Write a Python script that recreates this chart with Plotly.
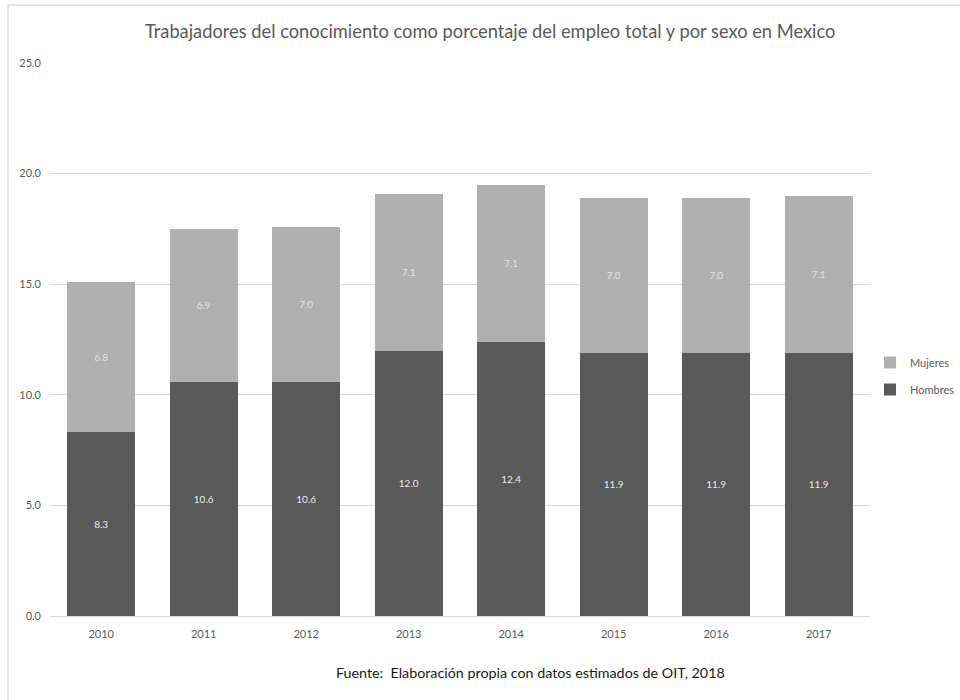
import plotly.graph_objects as go

years = ["2010", "2011", "2012", "2013", "2014", "2015", "2016", "2017"]
hombres = [8.3, 10.6, 10.6, 12.0, 12.4, 11.9, 11.9, 11.9]
mujeres = [6.8, 6.9, 7.0, 7.1, 7.1, 7.0, 7.0, 7.1]

FONT = "Lato, sans-serif"
W, H = 960, 700
ML, MR, MT, MB = 50, 90, 63, 84

fig = go.Figure()
fig.add_trace(go.Bar(
    x=years, y=hombres, name="Hombres", legendgroup="h", legendrank=2,
    marker=dict(color="#595959", line=dict(width=0)),
    text=[f"{v:.1f}" for v in hombres], textposition="inside",
    insidetextanchor="middle",
    textfont=dict(family=FONT, size=10, color="#e8e8e8"),
))
fig.add_trace(go.Bar(
    x=years, y=mujeres, name="Mujeres", legendgroup="m", legendrank=1,
    marker=dict(color="#b0b0b0", line=dict(width=0)),
    text=[f"{v:.1f}" for v in mujeres], textposition="inside",
    insidetextanchor="middle",
    textfont=dict(family=FONT, size=10, color="#e4e4e4"),
))

pw = W - ML - MR
ph = H - MT - MB
# outer frame around the whole chart, expressed in paper units
x0 = (8 - ML) / pw
x1 = (975 - ML) / pw
y1 = (H - MB - 5) / ph
y0 = (H - MB - 715) / ph

fig.update_layout(
    width=W, height=H,
    margin=dict(l=ML, r=MR, t=MT, b=MB, autoexpand=False),
    paper_bgcolor="white", plot_bgcolor="white",
    barmode="stack", bargap=0.34,
    uniformtext=dict(minsize=8, mode="show"),
    font=dict(family=FONT, color="#595959"),
    xaxis=dict(showgrid=False, showline=True, linecolor="#d9d9d9",
               tickfont=dict(size=11, color="#595959"), ticks="",
               ticklabelstandoff=8),
    yaxis=dict(range=[0, 25], dtick=5, tickformat=".1f",
               showgrid=True, gridcolor="#d9d9d9", gridwidth=1,
               zeroline=False, showline=False,
               tickfont=dict(size=11, color="#595959"), ticklabelstandoff=8),
    legend=dict(xref="container", yref="container",
                x=870 / W, y=1 - 376 / H, xanchor="left", yanchor="middle",
                traceorder="grouped", font=dict(size=11, color="#595959"),
                itemwidth=30, tracegroupgap=8, bgcolor="rgba(0,0,0,0)"),
    showlegend=True,
    annotations=[
        dict(text="Trabajadores del conocimiento como porcentaje del empleo total y por sexo en Mexico",
             xref="paper", yref="paper", x=(490 - ML) / pw, y=(H - MB - 31) / ph,
             xanchor="center", yanchor="middle", showarrow=False,
             font=dict(family=FONT, size=18.3, color="#595959")),
        dict(text="Fuente:  Elaboración propia con datos estimados de OIT, 2018",
             xref="paper", yref="paper", x=(530 - ML) / pw, y=(H - MB - 672) / ph,
             xanchor="center", yanchor="middle", showarrow=False,
             font=dict(family=FONT, size=14.3, color="#1a1a1a")),
    ],
    shapes=[dict(type="rect", xref="paper", yref="paper",
                 x0=x0, x1=x1, y0=y0, y1=y1,
                 line=dict(color="#d9d9d9", width=1.5), layer="below")],
)

fig.write_html("out.html")
